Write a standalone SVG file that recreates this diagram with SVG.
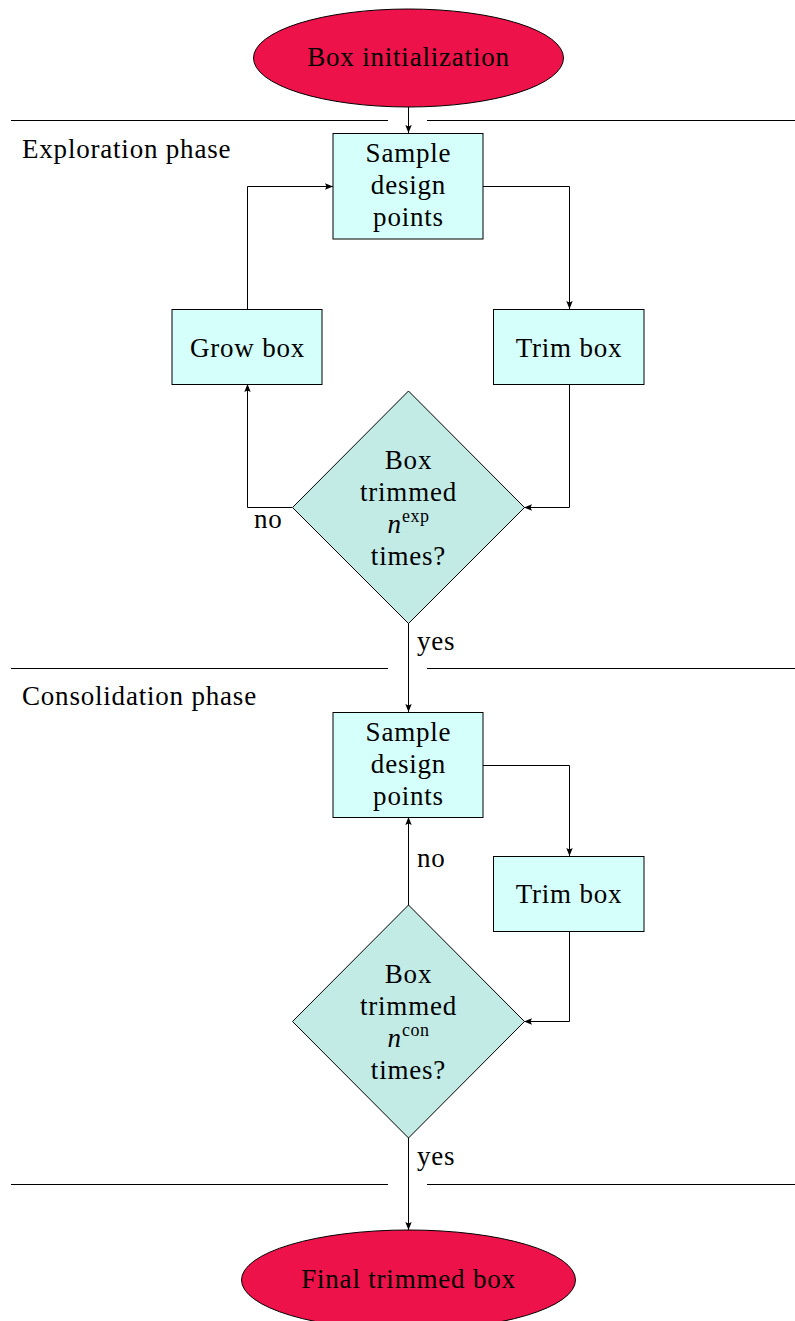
<svg xmlns="http://www.w3.org/2000/svg" width="795" height="1321" viewBox="0 0 795 1321">
<defs>
<marker id="arr" markerUnits="userSpaceOnUse" markerWidth="10" markerHeight="8" refX="8" refY="4" orient="auto">
<path d="M0,0.8 L8,4 L0,7.2 L1.5,4 Z" fill="#000"/>
</marker>
</defs>
<style>
text{font-family:'Liberation Serif','DejaVu Serif',serif;font-size:27px;letter-spacing:0.8px;fill:#000}
.c{text-anchor:middle}
.term{fill:#ED1249;stroke:#000;stroke-width:1}
.box{fill:#D5FFFA;stroke:#000;stroke-width:1}
.dia{fill:#C2EBE6;stroke:#000;stroke-width:1}
.sep{stroke:#000;stroke-width:1;fill:none}
.edge{stroke:#000;stroke-width:1;fill:none;marker-end:url(#arr)}
.sup{font-size:18px;letter-spacing:0.5px}
</style>
<rect width="795" height="1321" fill="#fff"/>
<g id="separators">
<path class="sep" d="M11,120.5H388M427,120.5H795"/>
<path class="sep" d="M11,668.5H388M427,668.5H795"/>
<path class="sep" d="M11,1184.5H388M427,1184.5H795"/>
</g>
<g id="phase-labels">
<text x="22" y="158">Exploration phase</text>
<text x="22" y="705">Consolidation phase</text>
</g>
<g id="connectors">
<path class="edge" d="M408.5,107V133"/>
<path class="edge" d="M483,186.5H569.5V309"/>
<path class="edge" d="M569.5,384V507.5H524"/>
<path class="edge" d="M292,507.5H247.5V384"/>
<path class="edge" d="M247.5,309V186.5H333"/>
<path class="edge" d="M408.5,623V712"/>
<path class="edge" d="M483,765.5H569.5V856"/>
<path class="edge" d="M569.5,931V1021.5H524"/>
<path class="edge" d="M408.5,905V817"/>
<path class="edge" d="M408.5,1138V1230"/>
<text x="254" y="528">no</text>
<text x="417" y="650">yes</text>
<text x="417" y="867">no</text>
<text x="417" y="1165">yes</text>
</g>
<g id="start">
<ellipse class="term" cx="408.5" cy="58" rx="155" ry="49"/>
<text class="c" x="408.5" y="66">Box initialization</text>
</g>
<g id="sample1">
<rect class="box" x="333" y="133.5" width="150" height="105.5"/>
<text class="c" x="408.5" y="162">Sample</text>
<text class="c" x="408.5" y="194">design</text>
<text class="c" x="408.5" y="226">points</text>
</g>
<g id="grow">
<rect class="box" x="172" y="309.5" width="150" height="75"/>
<text class="c" x="247.5" y="357">Grow box</text>
</g>
<g id="trim1">
<rect class="box" x="493.5" y="309.5" width="150.5" height="75"/>
<text class="c" x="569" y="357">Trim box</text>
</g>
<g id="check1">
<polygon class="dia" points="408.5,391 524.5,507.5 408.5,623.5 292.5,507.5"/>
<text class="c" x="408.5" y="469">Box</text>
<text class="c" x="408.5" y="501">trimmed</text>
<text class="c" x="408.5" y="533"><tspan font-style="italic">n</tspan><tspan class="sup" dy="-11">exp</tspan></text>
<text class="c" x="408.5" y="565">times?</text>
</g>
<g id="sample2">
<rect class="box" x="333" y="712.5" width="150" height="105"/>
<text class="c" x="408.5" y="741">Sample</text>
<text class="c" x="408.5" y="773">design</text>
<text class="c" x="408.5" y="805">points</text>
</g>
<g id="trim2">
<rect class="box" x="493.5" y="856.5" width="150.5" height="75"/>
<text class="c" x="569" y="903">Trim box</text>
</g>
<g id="check2">
<polygon class="dia" points="408.5,905 524.5,1021.5 408.5,1138 292.5,1021.5"/>
<text class="c" x="408.5" y="983">Box</text>
<text class="c" x="408.5" y="1015">trimmed</text>
<text class="c" x="408.5" y="1047"><tspan font-style="italic">n</tspan><tspan class="sup" dy="-11">con</tspan></text>
<text class="c" x="408.5" y="1079">times?</text>
</g>
<g id="final">
<ellipse class="term" cx="408.5" cy="1280" rx="167" ry="50"/>
<text class="c" x="408.5" y="1288">Final trimmed box</text>
</g>
</svg>
